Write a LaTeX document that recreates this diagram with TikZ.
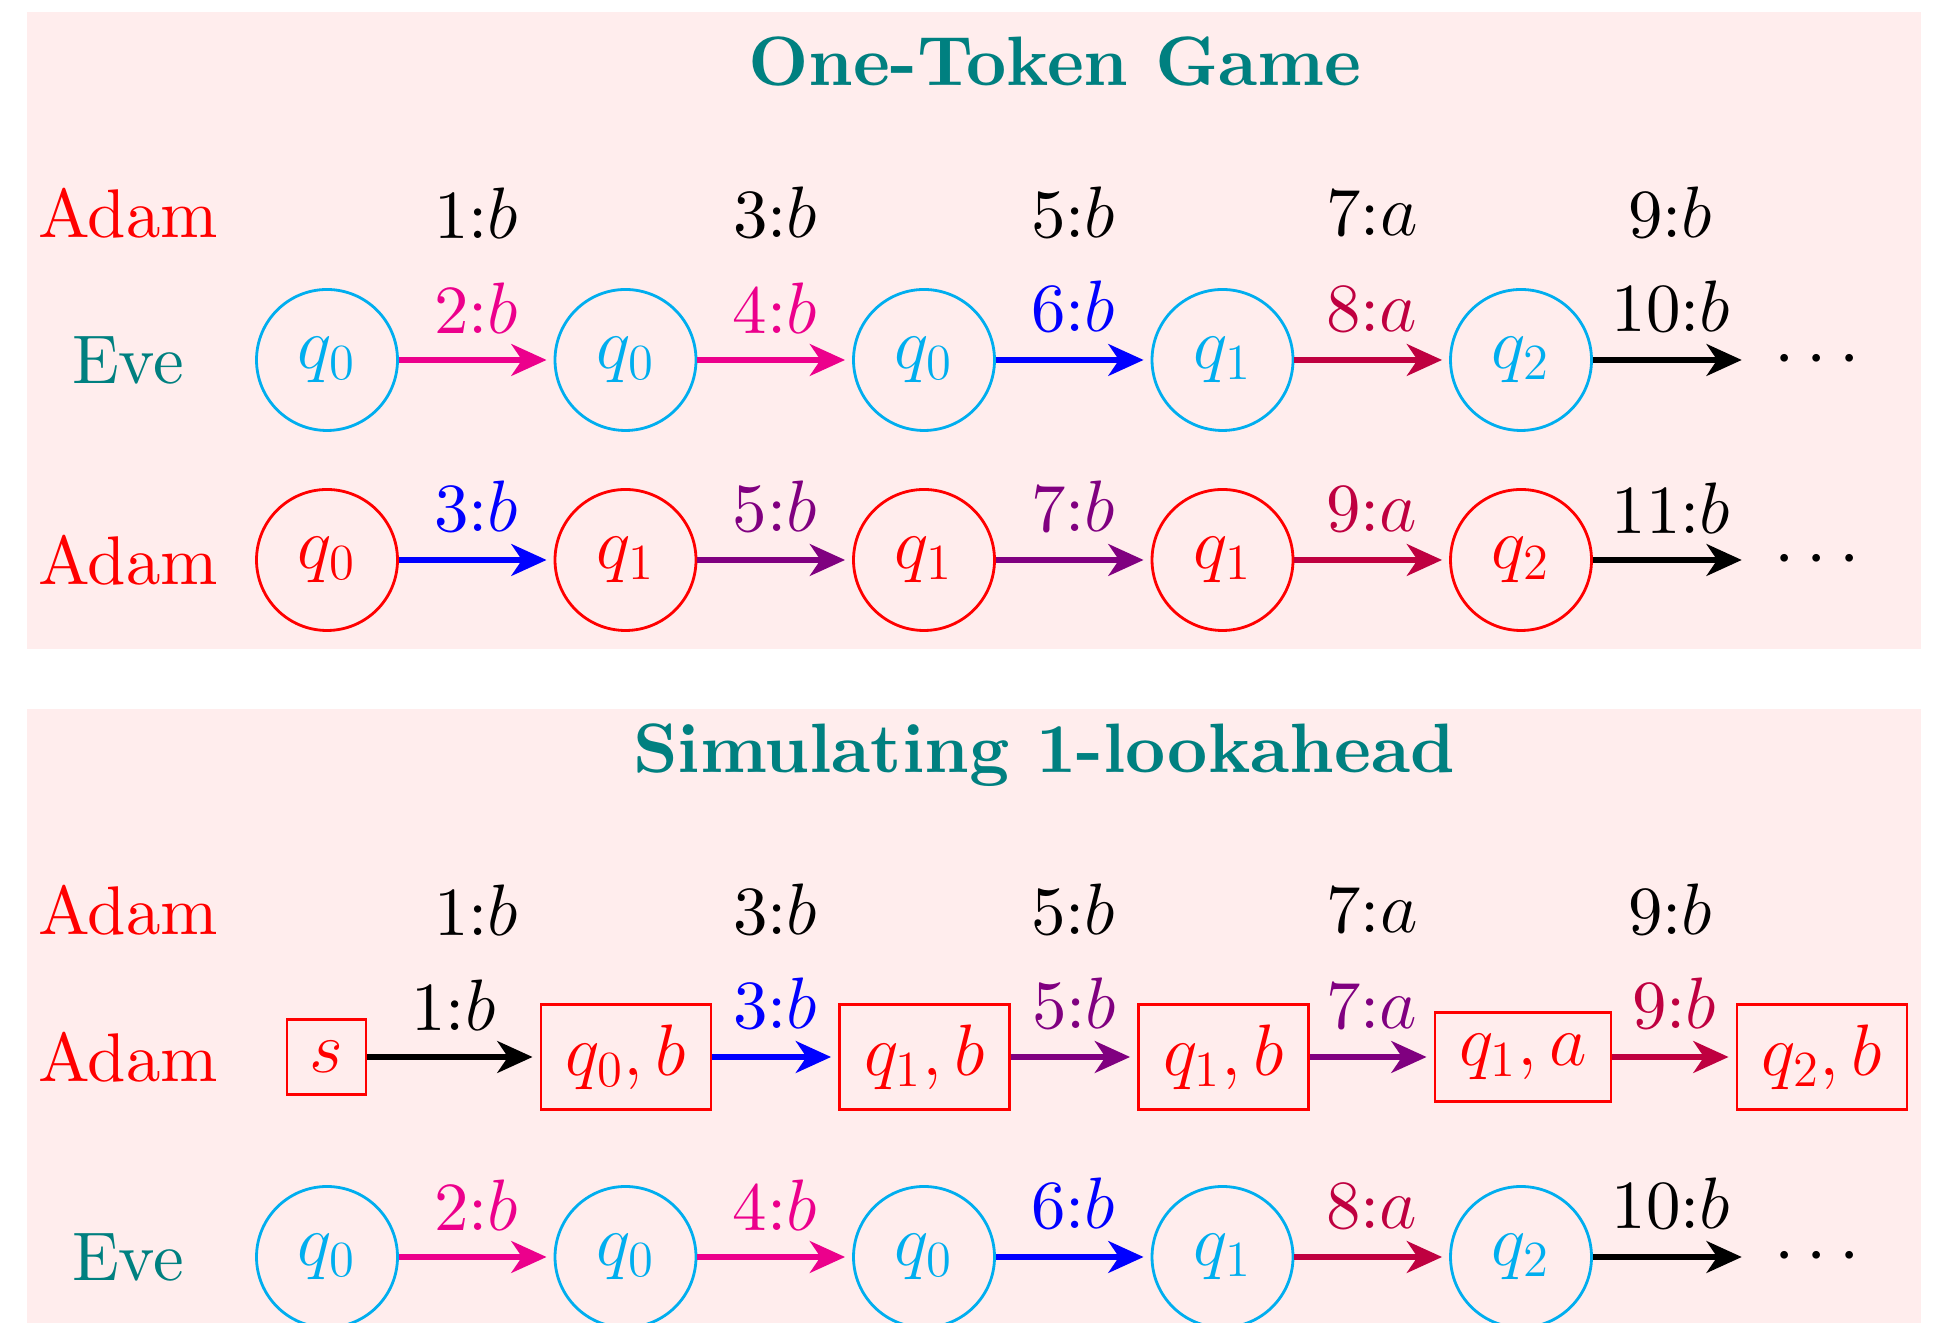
\documentclass[tikz,border=0pt]{standalone}
\usetikzlibrary{arrows.meta}
\DeclareFontFamily{TU}{lmten}{}
\DeclareFontShape{TU}{lmten}{m}{n}{<-> \UnicodeFontFile{lmroman10-regular}{\UnicodeFontTeXLigatures}}{}
\DeclareFontShape{TU}{lmten}{bx}{n}{<-> \UnicodeFontFile{lmroman10-bold}{\UnicodeFontTeXLigatures}}{}
\DeclareFontShape{TU}{lmten}{b}{n}{<-> ssub * lmten/bx/n}{}
\definecolor{bgpink}{RGB}{255,237,237}
\definecolor{evecol}{RGB}{0,174,239}
\definecolor{pinkc}{RGB}{236,0,140}
\definecolor{violc}{RGB}{128,0,128}
\definecolor{crimc}{RGB}{191,0,64}
\definecolor{tealc}{RGB}{0,128,128}
\newcommand{\bigfont}{\fontfamily{lmten}\fontsize{19.6}{23.5}\selectfont}
\newcommand{\titlefont}{\fontfamily{lmten}\fontsize{19.9}{24}\selectfont\bfseries}
\begin{document}
\begin{tikzpicture}[
  every node/.style={font=\bigfont},
  evest/.style={circle, draw=evecol, text=evecol, line width=0.8pt, minimum size=1.41cm, inner sep=0pt},
  adamst/.style={circle, draw=red, text=red, line width=0.8pt, minimum size=1.41cm, inner sep=0pt},
  boxst/.style={rectangle, draw=red, text=red, line width=0.8pt, inner sep=0pt},
  arr/.style={line width=1.7pt, -{Stealth[length=10pt,width=9pt,inset=3pt]}, shorten >=2pt},
  lbl/.style={midway, above=3.4pt},
  dotst/.style={inner xsep=0.25cm},
  titlest/.style={font=\titlefont, text=tealc},
]
\useasboundingbox (0,0) rectangle (19.41,13.23);
% backgrounds
\fill[bgpink] (0.27,6.74) rectangle (19.21,13.11);
\fill[bgpink] (0.27,-0.5) rectangle (19.21,6.14);

% ===== Top panel =====
\node[titlest] (t1) at (10.55,12.61) {One-Token Game};
\node[text=red] (ta1) at (1.28,11.10) {Adam};
\node (tl1) at (4.76,11.10) {1:$b$};
\node (tl3) at (7.75,11.10) {3:$b$};
\node (tl5) at (10.73,11.10) {5:$b$};
\node (tl7) at (13.72,11.10) {7:$a$};
\node (tl9) at (16.70,11.10) {9:$b$};

\node[text=tealc] (te) at (1.28,9.63) {Eve};
\node[evest] (e1) at (3.27,9.63) {$q_0$};
\node[evest] (e2) at (6.255,9.63) {$q_0$};
\node[evest] (e3) at (9.24,9.63) {$q_0$};
\node[evest] (e4) at (12.225,9.63) {$q_1$};
\node[evest] (e5) at (15.21,9.63) {$q_2$};
\node[dotst] (ed) at (18.17,9.63) {$\cdots$};
\draw[arr,pinkc] (e1) -- node[lbl] {2:$b$} (e2);
\draw[arr,pinkc] (e2) -- node[lbl] {4:$b$} (e3);
\draw[arr,blue] (e3) -- node[lbl] {6:$b$} (e4);
\draw[arr,crimc] (e4) -- node[lbl] {8:$a$} (e5);
\draw[arr,black] (e5) -- node[lbl] {10:$b$} (ed);

\node[text=red] (ta2) at (1.28,7.63) {Adam};
\node[adamst] (a1) at (3.27,7.63) {$q_0$};
\node[adamst] (a2) at (6.255,7.63) {$q_1$};
\node[adamst] (a3) at (9.24,7.63) {$q_1$};
\node[adamst] (a4) at (12.225,7.63) {$q_1$};
\node[adamst] (a5) at (15.21,7.63) {$q_2$};
\node[dotst] (ad) at (18.17,7.63) {$\cdots$};
\draw[arr,blue] (a1) -- node[lbl] {3:$b$} (a2);
\draw[arr,violc] (a2) -- node[lbl] {5:$b$} (a3);
\draw[arr,violc] (a3) -- node[lbl] {7:$b$} (a4);
\draw[arr,crimc] (a4) -- node[lbl] {9:$a$} (a5);
\draw[arr,black] (a5) -- node[lbl] {11:$b$} (ad);

% ===== Bottom panel =====
\node[titlest] (t2) at (10.44,5.68) {Simulating 1-lookahead};
\node[text=red] (ba1) at (1.28,4.13) {Adam};
\node (bl1) at (4.76,4.13) {1:$b$};
\node (bl3) at (7.75,4.13) {3:$b$};
\node (bl5) at (10.73,4.13) {5:$b$};
\node (bl7) at (13.72,4.13) {7:$a$};
\node (bl9) at (16.70,4.13) {9:$b$};

\node[text=red] (ba2) at (1.28,2.66) {Adam};
\node[boxst, minimum width=0.79cm, minimum height=0.75cm] (b0) at (3.265,2.66) {$s$};
\node[boxst, minimum width=1.70cm, minimum height=1.05cm] (b1) at (6.26,2.66) {$q_0,b$};
\node[boxst, minimum width=1.70cm, minimum height=1.05cm] (b2) at (9.245,2.66) {$q_1,b$};
\node[boxst, minimum width=1.70cm, minimum height=1.05cm] (b3) at (12.235,2.66) {$q_1,b$};
\node[boxst, minimum width=1.76cm, minimum height=0.89cm] (b4) at (15.23,2.66) {$q_1,a$};
\node[boxst, minimum width=1.70cm, minimum height=1.05cm] (b5) at (18.22,2.66) {$q_2,b$};
\draw[arr,black] (b0) -- node[lbl] {1:$b$} (b1);
\draw[arr,blue] (b1) -- node[lbl] {3:$b$} (b2);
\draw[arr,violc] (b2) -- node[lbl] {5:$b$} (b3);
\draw[arr,violc] (b3) -- node[lbl] {7:$a$} (b4);
\draw[arr,crimc] (b4) -- node[lbl] {9:$b$} (b5);

\node[text=tealc] (be) at (1.28,0.66) {Eve};
\node[evest] (f1) at (3.27,0.66) {$q_0$};
\node[evest] (f2) at (6.255,0.66) {$q_0$};
\node[evest] (f3) at (9.24,0.66) {$q_0$};
\node[evest] (f4) at (12.225,0.66) {$q_1$};
\node[evest] (f5) at (15.21,0.66) {$q_2$};
\node[dotst] (fd) at (18.17,0.66) {$\cdots$};
\draw[arr,pinkc] (f1) -- node[lbl] {2:$b$} (f2);
\draw[arr,pinkc] (f2) -- node[lbl] {4:$b$} (f3);
\draw[arr,blue] (f3) -- node[lbl] {6:$b$} (f4);
\draw[arr,crimc] (f4) -- node[lbl] {8:$a$} (f5);
\draw[arr,black] (f5) -- node[lbl] {10:$b$} (fd);
\end{tikzpicture}
\end{document}
